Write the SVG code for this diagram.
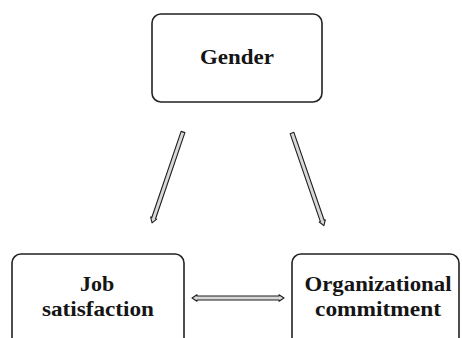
<svg xmlns="http://www.w3.org/2000/svg" width="462" height="338" viewBox="0 0 462 338">
  <style>
    .box { fill: #ffffff; stroke: #222222; stroke-width: 1.6; }
    .lbl { font-family: "Liberation Serif", "Times New Roman", serif; font-weight: bold; font-size: 22px; fill: #151515; text-anchor: middle; }
    .arrow { fill: #d8d8d8; stroke: #1e1e1e; stroke-width: 1.1; stroke-linejoin: round; }
  </style>
  <rect width="462" height="338" fill="#ffffff"/>

  <g id="gender">
    <rect class="box" x="152" y="14" width="170" height="88" rx="9" ry="9"/>
    <text class="lbl" x="237" y="64" textLength="74" lengthAdjust="spacingAndGlyphs">Gender</text>
  </g>

  <g id="job-satisfaction">
    <rect class="box" x="12" y="254" width="172" height="100" rx="9" ry="9"/>
    <text class="lbl" x="97" y="291">Job</text>
    <text class="lbl" x="98" y="316" textLength="112" lengthAdjust="spacingAndGlyphs">satisfaction</text>
  </g>

  <g id="organizational-commitment">
    <rect class="box" x="292" y="254" width="167" height="100" rx="9" ry="9"/>
    <text class="lbl" x="378" y="291" textLength="147" lengthAdjust="spacingAndGlyphs">Organizational</text>
    <text class="lbl" x="378" y="316" textLength="126" lengthAdjust="spacingAndGlyphs">commitment</text>
  </g>

  <g id="connectors">
    <!-- Gender to Job satisfaction -->
    <path class="arrow" transform="translate(183,132) rotate(108.8)" d="M0,-2 H91 V-3.2 L96,0 L91,3.2 V2 H0 Z"/>
    <!-- Gender to Organizational commitment -->
    <path class="arrow" transform="translate(292,133) rotate(71)" d="M0,-2 H93 V-3.2 L98,0 L93,3.2 V2 H0 Z"/>
    <!-- two-way link between the lower boxes -->
    <path class="arrow" transform="translate(192,298)" d="M0,0 L5,-3.2 V-2 H87 V-3.2 L92,0 L87,3.2 V2 H5 V3.2 Z"/>
  </g>
</svg>
